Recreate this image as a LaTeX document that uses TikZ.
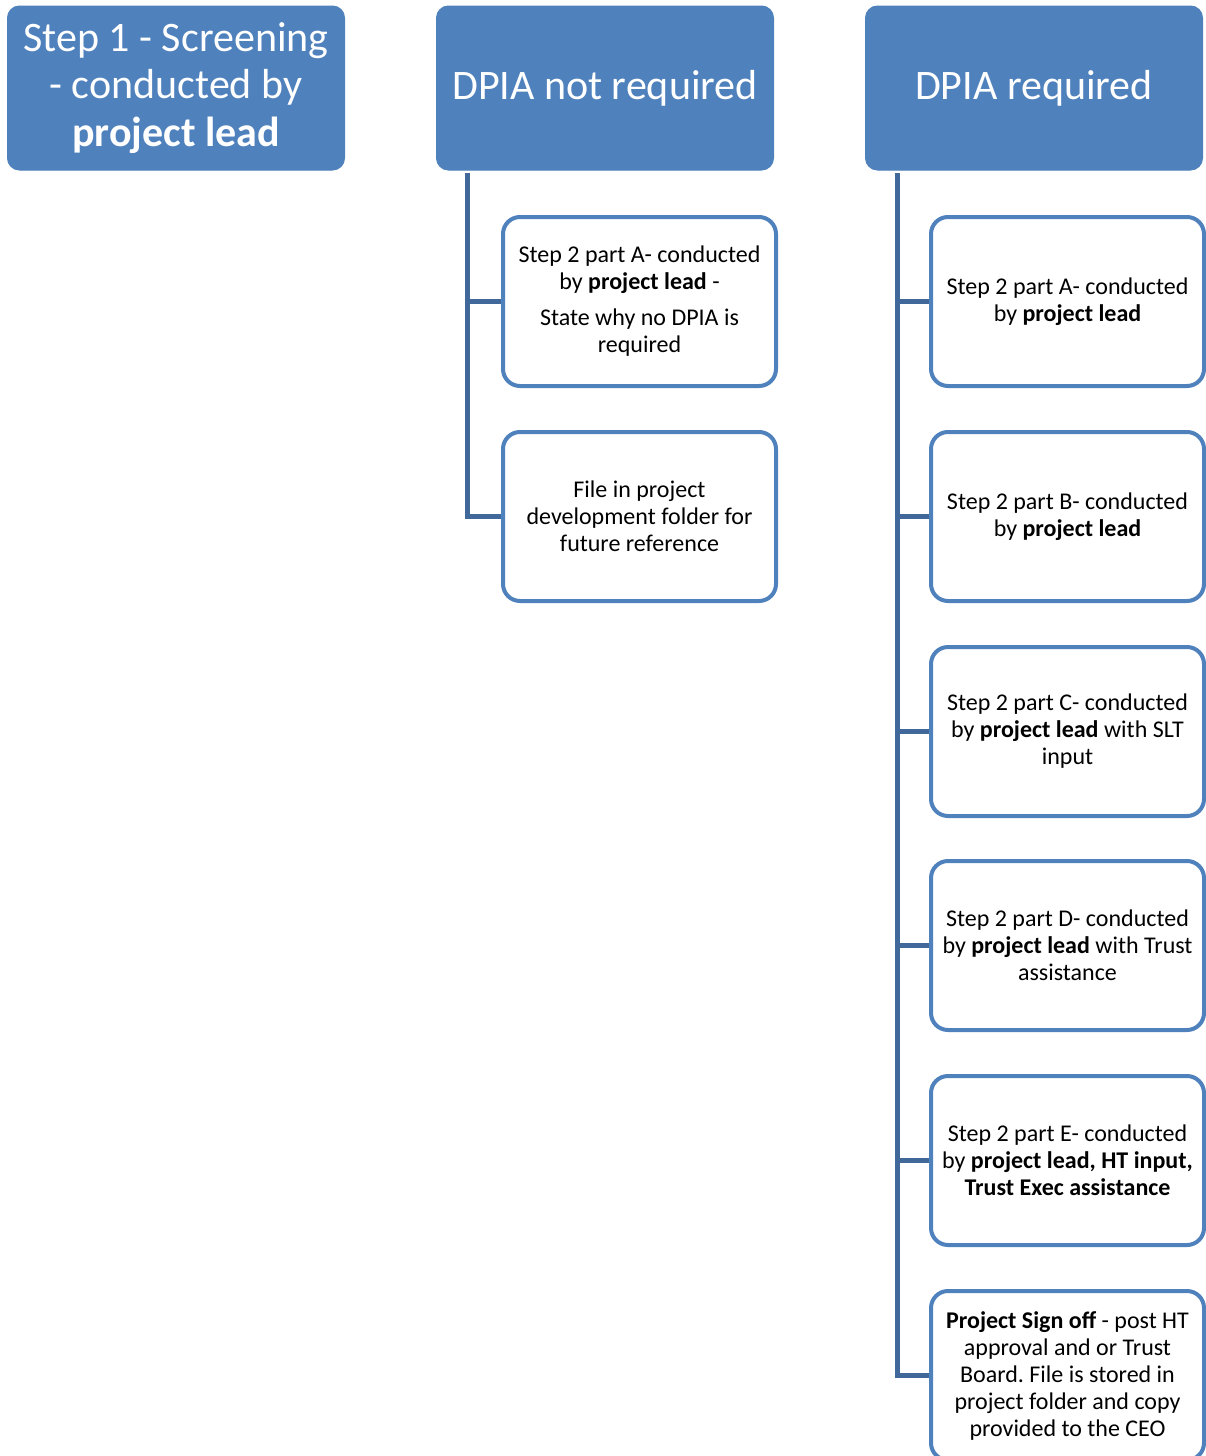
\documentclass[tikz,border=0pt]{standalone}
\usepackage{fontspec}
\setmainfont{Carlito}
\frenchspacing
\definecolor{topfill}{HTML}{4F81BD}
\definecolor{boxline}{HTML}{4F81BD}
\definecolor{conn}{HTML}{41689A}
\begin{document}
\begin{tikzpicture}[x=1pt,y=1pt,
  topbox/.style={draw=topfill,fill=topfill,line width=1pt,rounded corners=12pt,
    minimum width=337pt,minimum height=164pt,inner sep=0pt,text=white,align=center,
    font=\fontsize{42}{47.5}\selectfont},
  childbox/.style={draw=boxline,fill=white,line width=4pt,rounded corners=17pt,
    minimum width=273pt,minimum height=169pt,inner sep=0pt,align=center,
    font=\fontsize{24}{27}\selectfont\frenchspacing},
  link/.style={draw=conn,line width=5pt}]
\useasboundingbox (0,0) rectangle (1205,-1456);
\fill[white] (0,0) rectangle (1205,-1456);

\node[topbox] (t1) at (176,-88) {Step 1 - Screening\\- conducted by\\\textbf{project lead}};
\node[topbox] (t2) at (605,-88) {DPIA not required};
\node[topbox] (t3) at (1034,-88) {DPIA required};

\node[childbox] (l1) at (639.5,-301.5) {Step 2 part A- conducted\\by \textbf{project lead} -\\[9pt]State why no DPIA is\\required};
\node[childbox] (l2) at (639.5,-516.5) {File in project\\development folder for\\future reference};

\node[childbox] (r1) at (1067.5,-301.5) {Step 2 part A- conducted\\by \textbf{project lead}};
\node[childbox] (r2) at (1067.5,-516.5) {Step 2 part B- conducted\\by \textbf{project lead}};
\node[childbox] (r3) at (1067.5,-731.5) {Step 2 part C- conducted\\by \textbf{project lead} with SLT\\input};
\node[childbox] (r4) at (1067.5,-945.5) {Step 2 part D- conducted\\by \textbf{project lead} with Trust\\assistance};
\node[childbox] (r5) at (1067.5,-1160.5) {Step 2 part E- conducted\\by \textbf{project lead, HT input,}\\\textbf{Trust Exec assistance}};
\node[childbox] (r6) at (1067.5,-1375.5) {\textbf{Project Sign off} - post HT\\approval and or Trust\\Board. File is stored in\\project folder and copy\\provided to the CEO};

\coordinate (tl) at (467,-173);
\coordinate (tr) at (897,-173);

\draw[link] (tl) |- (l2.west);
\draw[link] (tl |- l1.west) -- (l1.west);

\draw[link] (tr) |- (r6.west);
\foreach \n in {r1,r2,r3,r4,r5}
  \draw[link] (tr |- \n.west) -- (\n.west);
\end{tikzpicture}
\end{document}
